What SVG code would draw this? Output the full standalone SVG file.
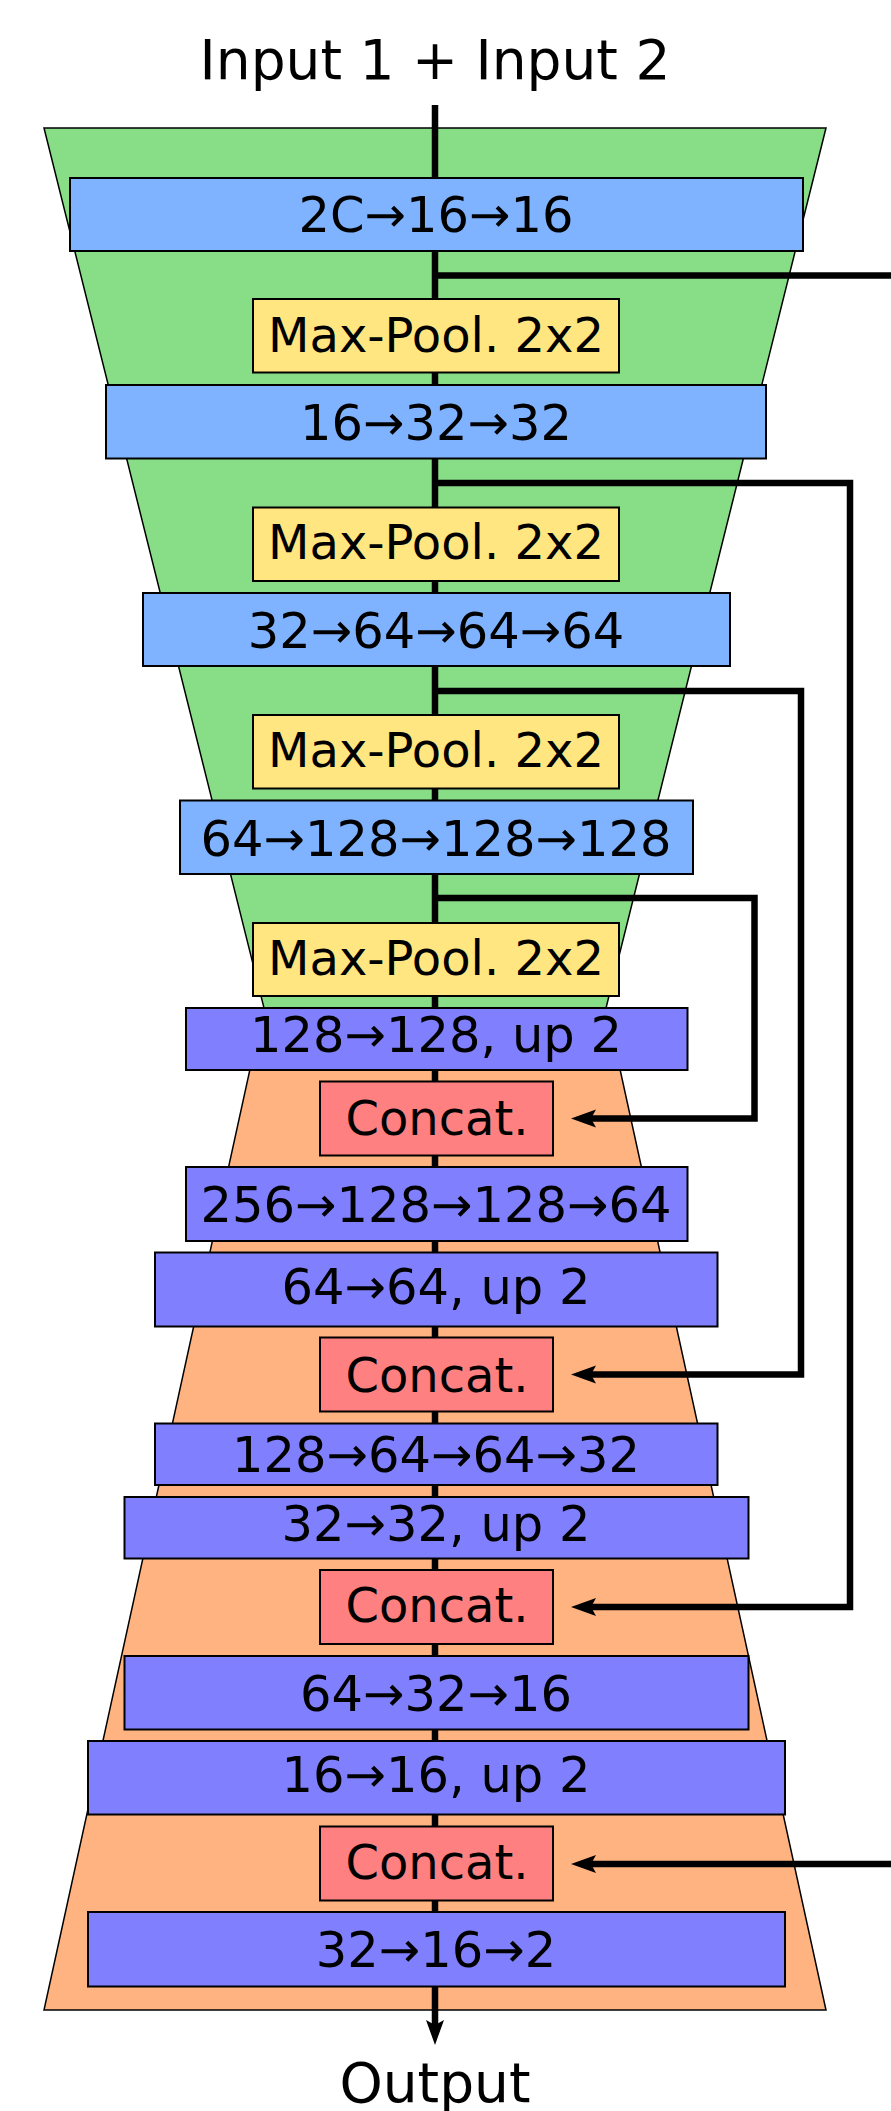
<svg xmlns="http://www.w3.org/2000/svg" width="891" height="2111" viewBox="0 0 891 2111">
  <defs>
    <style>
      .trap { stroke: #000; stroke-width: 1.5; stroke-linejoin: miter; }
      .enc-stage { fill: #87de87; }
      .dec-stage { fill: #ffb380; }
      .box { stroke: #000; stroke-width: 2; }
      .conv { fill: #80b3ff; }
      .pool { fill: #ffe680; }
      .up { fill: #8080ff; }
      .cat { fill: #ff8080; }
      .lbl { font-family: "DejaVu Sans", "Liberation Sans", sans-serif; font-size: 49.5px; text-anchor: middle; fill: #000; }
      .word { font-size: 48px; }
      .io { font-family: "DejaVu Sans", "Liberation Sans", sans-serif; font-size: 55px; text-anchor: middle; fill: #000; }
      .wire { fill: none; stroke: #000; stroke-width: 6.5; stroke-linejoin: miter; stroke-linecap: butt; }
    </style>
    <marker id="head" markerUnits="userSpaceOnUse" markerWidth="30" markerHeight="22" refX="5" refY="11" orient="auto" overflow="visible">
      <path d="M25,11 L0,2 L5,11 L0,20 Z" fill="#000"/>
    </marker>
  </defs>

  <!-- stage backgrounds: contracting path and expanding path -->
  <g id="stages">
    <polygon class="trap enc-stage" points="44,128 826,128 598,1040 272,1040"/>
    <polygon class="trap dec-stage" points="256.4,1040 613.6,1040 826,2010 44,2010"/>
  </g>

  <text id="input" class="io" x="435" y="79">Input 1 + Input 2</text>

  <!-- data flow and skip connections -->
  <g id="connectors">
    <path class="wire" d="M435,105 V2025" marker-end="url(#head)"/>
    <path class="wire" d="M435,275.5 H891"/>
    <path class="wire" d="M891,1864 H591" marker-end="url(#head)"/>
    <path class="wire" d="M435,483 H850 V1607 H591" marker-end="url(#head)"/>
    <path class="wire" d="M435,691 H801 V1374.5 H591" marker-end="url(#head)"/>
    <path class="wire" d="M435,898 H754.5 V1118.5 H591" marker-end="url(#head)"/>
  </g>

  <g id="enc1"><rect class="box conv" x="70" y="178" width="733" height="73"/><text class="lbl" x="436" y="232">2C→16→16</text></g>
  <g id="pool1"><rect class="box pool" x="253" y="299" width="366" height="73.5"/><text class="lbl word" x="436" y="352">Max-Pool. 2x2</text></g>
  <g id="enc2"><rect class="box conv" x="106" y="385" width="660" height="73.5"/><text class="lbl" x="436" y="439.5">16→32→32</text></g>
  <g id="pool2"><rect class="box pool" x="253" y="507.5" width="366" height="73.5"/><text class="lbl word" x="436" y="559">Max-Pool. 2x2</text></g>
  <g id="enc3"><rect class="box conv" x="143" y="593" width="587" height="73"/><text class="lbl" x="436" y="648">32→64→64→64</text></g>
  <g id="pool3"><rect class="box pool" x="253" y="715" width="366" height="73.5"/><text class="lbl word" x="436" y="767">Max-Pool. 2x2</text></g>
  <g id="enc4"><rect class="box conv" x="180" y="800.5" width="513" height="73.5"/><text class="lbl" x="436" y="855.5">64→128→128→128</text></g>
  <g id="pool4"><rect class="box pool" x="253" y="923" width="366" height="73"/><text class="lbl word" x="436" y="975">Max-Pool. 2x2</text></g>

  <g id="dec1-up"><rect class="box up" x="186" y="1008" width="501.5" height="62"/><text class="lbl" x="436" y="1051.5">128→128, up 2</text></g>
  <g id="cat1"><rect class="box cat" x="320" y="1081.5" width="233" height="74"/><text class="lbl word" x="437" y="1135">Concat.</text></g>
  <g id="dec2"><rect class="box up" x="186" y="1167" width="501.5" height="74"/><text class="lbl" x="436" y="1222">256→128→128→64</text></g>
  <g id="dec2-up"><rect class="box up" x="155" y="1252.5" width="562.5" height="74"/><text class="lbl" x="436" y="1303.5">64→64, up 2</text></g>
  <g id="cat2"><rect class="box cat" x="320" y="1337.5" width="233" height="74"/><text class="lbl word" x="437" y="1391.7">Concat.</text></g>
  <g id="dec3"><rect class="box up" x="155" y="1423.5" width="562.5" height="61.5"/><text class="lbl" x="436" y="1472">128→64→64→32</text></g>
  <g id="dec3-up"><rect class="box up" x="124.5" y="1497" width="624" height="61.5"/><text class="lbl" x="436" y="1541">32→32, up 2</text></g>
  <g id="cat3"><rect class="box cat" x="320" y="1570" width="233" height="74"/><text class="lbl word" x="437" y="1621.7">Concat.</text></g>
  <g id="dec4"><rect class="box up" x="124.5" y="1656" width="624" height="73.5"/><text class="lbl" x="436" y="1710.5">64→32→16</text></g>
  <g id="dec4-up"><rect class="box up" x="88" y="1741" width="697" height="73.5"/><text class="lbl" x="436" y="1792">16→16, up 2</text></g>
  <g id="cat4"><rect class="box cat" x="320" y="1826.5" width="233" height="74"/><text class="lbl word" x="437" y="1879">Concat.</text></g>
  <g id="head-out"><rect class="box up" x="88" y="1912" width="697" height="74.5"/><text class="lbl" x="436" y="1967">32→16→2</text></g>

  <text id="output" class="io" x="435" y="2102">Output</text>
</svg>
